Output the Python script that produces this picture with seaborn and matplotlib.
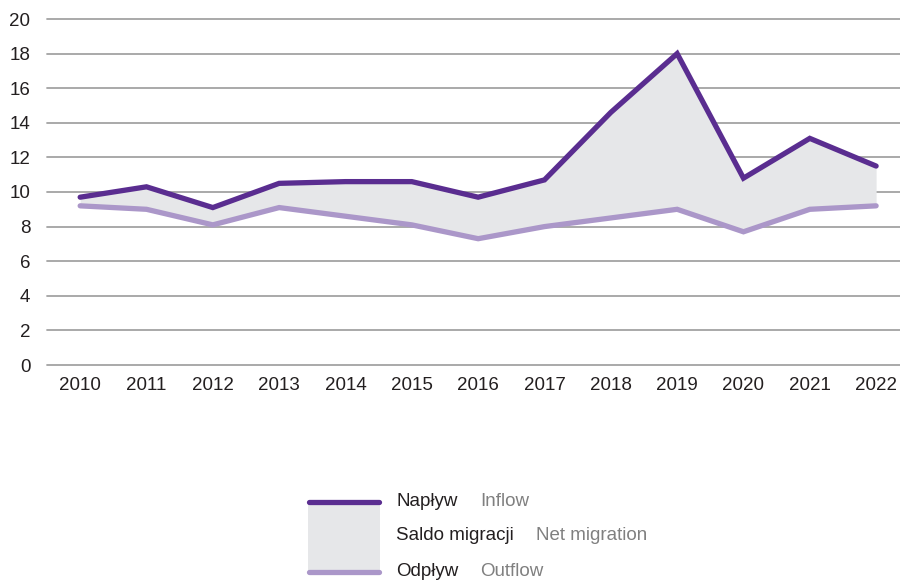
import matplotlib
matplotlib.use("Agg")
import matplotlib.pyplot as plt
import seaborn as sns
import pandas as pd
from matplotlib.patches import Rectangle
from matplotlib.lines import Line2D

# Dane (tys. osób)
LATA = [2010, 2011, 2012, 2013, 2014, 2015, 2016, 2017, 2018, 2019, 2020, 2021, 2022]
NAPLYW = [9.7, 10.3, 9.1, 10.5, 10.6, 10.6, 9.7, 10.7, 14.6, 18.0, 10.8, 13.1, 11.5]
ODPLYW = [9.2, 9.0, 8.1, 9.1, 8.6, 8.1, 7.3, 8.0, 8.5, 9.0, 7.7, 9.0, 9.2]
Y_TICKS = [0, 2, 4, 6, 8, 10, 12, 14, 16, 18, 20]

KOLOR_NAPLYW = "#5a2d90"
KOLOR_ODPLYW = "#ab97c9"
KOLOR_SALDO = "#e6e7e9"
KOLOR_TEKST = "#231f20"
KOLOR_ANG = "#808080"
ROZMIAR = 13.5

sns.set_theme(style="white")
plt.rcParams["font.family"] = ["Liberation Sans", "DejaVu Sans"]

df = pd.DataFrame({"rok": LATA, "naplyw": NAPLYW, "odplyw": ODPLYW})

fig = plt.figure(figsize=(9, 5.82), dpi=100)
ax = fig.add_axes([47 / 900, (582 - 365) / 582, 1 - 47 / 900, (365 - 19) / 582])

# siatka
for t in Y_TICKS:
    ax.axhline(t, color="#a3a3a3", linewidth=1.3, zorder=0, clip_on=False)

ax.fill_between(df["rok"], df["odplyw"], df["naplyw"], color=KOLOR_SALDO, linewidth=0, zorder=1)
sns.lineplot(data=df, x="rok", y="odplyw", ax=ax, color=KOLOR_ODPLYW, linewidth=3.8, zorder=2)
sns.lineplot(data=df, x="rok", y="naplyw", ax=ax, color=KOLOR_NAPLYW, linewidth=3.8, zorder=3)
for line in ax.lines[-2:]:
    line.set_solid_capstyle("round")
    line.set_solid_joinstyle("miter")

ax.set_xlim(2009.5, 2022.36)
ax.set_ylim(0, 20)
ax.set_xticks(LATA)
ax.set_yticks(Y_TICKS)
ax.set_xlabel("")
ax.set_ylabel("")
ax.tick_params(axis="both", length=0, labelsize=ROZMIAR, labelcolor=KOLOR_TEKST)
ax.tick_params(axis="y", pad=12)
ax.tick_params(axis="x", pad=9)
for s in ax.spines.values():
    s.set_visible(False)
ax.set_facecolor("white")

# legenda rysowana recznie
leg = fig.add_axes([0, 0, 1, 1], facecolor="none")
leg.set_xlim(0, 900)
leg.set_ylim(582, 0)
leg.axis("off")
leg.add_patch(Rectangle((308, 502), 72, 70, color=KOLOR_SALDO, linewidth=0))
leg.add_line(Line2D([309, 379], [502, 502], color=KOLOR_NAPLYW, linewidth=3.8, solid_capstyle="round"))
leg.add_line(Line2D([309, 379], [572, 572], color=KOLOR_ODPLYW, linewidth=3.8, solid_capstyle="round"))

pozycje = [
    (501, "Napływ", 480, "Inflow"),
    (536, "Saldo migracji", 536, "Net migration"),
    (571, "Odpływ", 480, "Outflow"),
]
for y, pl, x_en, en in pozycje:
    leg.text(396, y, pl, fontsize=ROZMIAR, color=KOLOR_TEKST, va="center", ha="left")
    leg.text(x_en, y, en, fontsize=ROZMIAR, color=KOLOR_ANG, va="center", ha="left")

fig.savefig("out.png", dpi=100)
